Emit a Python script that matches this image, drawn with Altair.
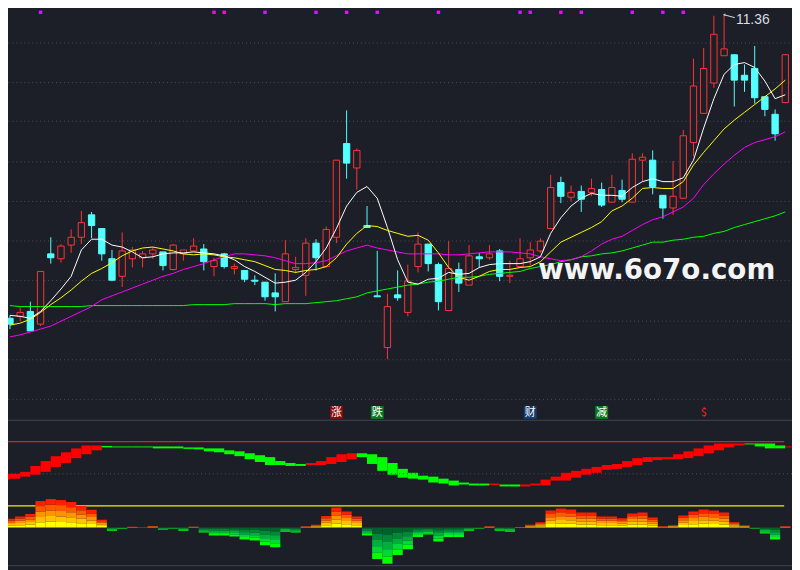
import altair as alt
import pandas as pd

# ---------------- data ----------------
idx = list(range(77))
open_ = [8.25, 8.27, 8.32, 8.19, 8.91, 8.86, 9.00, 9.08, 9.31, 9.17,
         8.86, 8.68, 8.86, 8.87, 8.91, 8.93, 8.75, 8.91, 8.94, 8.96,
         8.78, 8.91, 8.76, 8.74, 8.64, 8.62, 8.51, 8.42, 8.75, 8.69,
         9.02, 8.78, 9.08, 10.04, 9.79, 9.20, 8.48, 7.95, 8.49, 8.31,
         8.78, 9.01, 8.80, 8.33, 8.75, 8.59, 8.88, 8.87, 8.94, 8.68,
         8.78, 8.87, 8.94, 9.17, 9.64, 9.49, 9.55, 9.54, 9.57, 9.44,
         9.56, 9.44, 9.87, 9.87, 9.51, 9.38, 9.48, 10.05, 10.35, 10.66,
         10.94, 10.95, 10.74, 10.81, 10.52, 10.34, 10.46]
close = [8.19, 8.31, 8.12, 8.73, 8.87, 8.99, 9.08, 9.23, 9.20, 8.91,
         8.64, 8.94, 8.95, 8.91, 8.95, 8.79, 9.00, 8.95, 8.99, 8.83,
         8.84, 8.78, 8.78, 8.65, 8.63, 8.47, 8.47, 8.91, 8.77, 9.02,
         8.87, 9.16, 9.87, 9.84, 9.97, 9.18, 8.47, 8.37, 8.46, 8.63,
         9.01, 8.81, 8.42, 8.76, 8.61, 8.89, 8.86, 8.91, 8.68, 8.69,
         8.86, 8.95, 9.04, 9.59, 9.50, 9.54, 9.47, 9.58, 9.41, 9.59,
         9.47, 9.88, 9.90, 9.60, 9.38, 9.50, 10.12, 10.63, 10.81, 11.16,
         11.01, 10.69, 10.69, 10.51, 10.39, 10.14, 10.95]
high = [8.28, 8.36, 8.42, 8.73, 9.08, 9.01, 9.16, 9.35, 9.34, 9.17,
        8.95, 9.13, 8.98, 8.94, 8.98, 8.93, 9.01, 8.95, 9.07, 9.01,
        8.87, 8.92, 8.81, 8.74, 8.69, 8.62, 8.71, 9.05, 8.88, 9.07,
        9.06, 9.19, 9.87, 10.38, 9.99, 9.40, 8.94, 8.50, 8.74, 8.80,
        9.13, 9.01, 8.82, 9.04, 8.82, 9.00, 8.92, 9.00, 8.96, 8.84,
        9.07, 9.03, 9.07, 9.72, 9.70, 9.61, 9.61, 9.68, 9.64, 9.72,
        9.67, 9.94, 9.94, 9.97, 9.51, 9.86, 10.18, 10.91, 11.02, 11.35,
        11.36, 10.95, 10.85, 11.04, 10.52, 10.39, 10.95]
low = [8.14, 8.22, 8.12, 8.17, 8.81, 8.82, 8.92, 9.01, 9.07, 8.84,
       8.63, 8.57, 8.77, 8.77, 8.86, 8.74, 8.74, 8.84, 8.94, 8.74,
       8.68, 8.76, 8.70, 8.62, 8.59, 8.43, 8.32, 8.42, 8.71, 8.48,
       8.74, 8.77, 9.02, 9.68, 9.57, 9.18, 8.47, 7.83, 8.43, 8.27,
       8.72, 8.73, 8.33, 8.33, 8.52, 8.59, 8.77, 8.85, 8.63, 8.61,
       8.78, 8.79, 8.92, 9.17, 9.43, 9.45, 9.34, 9.50, 9.39, 9.43,
       9.44, 9.44, 9.65, 9.52, 9.27, 9.31, 9.48, 9.91, 10.35, 10.61,
       10.94, 10.42, 10.57, 10.45, 10.32, 10.07, 10.46]

ma5 = [8.28, 8.27, 8.25, 8.32, 8.43, 8.55, 8.68, 8.95, 9.06, 9.06,
       9.00, 8.98, 8.93, 8.87, 8.88, 8.91, 8.92, 8.92, 8.93, 8.92,
       8.91, 8.89, 8.85, 8.78, 8.73, 8.67, 8.61, 8.62, 8.64, 8.72,
       8.83, 8.97, 9.17, 9.40, 9.54, 9.60, 9.48, 9.18, 8.85, 8.62,
       8.60, 8.65, 8.66, 8.72, 8.70, 8.71, 8.77, 8.80, 8.81, 8.81,
       8.81, 8.83, 8.88, 9.12, 9.28, 9.40, 9.48, 9.53, 9.51, 9.51,
       9.50, 9.59, 9.65, 9.68, 9.65, 9.65, 9.69, 9.87, 10.20, 10.50,
       10.75, 10.85, 10.87, 10.82, 10.68, 10.50, 10.54]
ma10 = [8.18, 8.20, 8.24, 8.31, 8.39, 8.46, 8.54, 8.63, 8.71, 8.76,
        8.82, 8.89, 8.94, 8.97, 8.98, 8.96, 8.94, 8.91, 8.90, 8.91,
        8.90, 8.88, 8.87, 8.85, 8.83, 8.79, 8.75, 8.74, 8.72, 8.74,
        8.75, 8.78, 8.87, 9.01, 9.12, 9.20, 9.19, 9.15, 9.12, 9.09,
        9.10, 9.05, 8.92, 8.77, 8.67, 8.64, 8.68, 8.73, 8.75, 8.75,
        8.77, 8.78, 8.83, 8.93, 9.03, 9.08, 9.13, 9.18, 9.24, 9.35,
        9.40, 9.48, 9.58, 9.59, 9.58, 9.58, 9.65, 9.82, 9.95, 10.07,
        10.19, 10.28, 10.36, 10.44, 10.52, 10.60, 10.69]
ma20 = [8.06, 8.08, 8.11, 8.14, 8.17, 8.22, 8.27, 8.32, 8.37, 8.44,
        8.48, 8.52, 8.56, 8.60, 8.64, 8.68, 8.71, 8.75, 8.78, 8.81,
        8.85, 8.88, 8.91, 8.91, 8.90, 8.89, 8.87, 8.84, 8.81, 8.81,
        8.82, 8.84, 8.89, 8.94, 8.97, 9.00, 8.97, 8.95, 8.93, 8.91,
        8.91, 8.91, 8.91, 8.90, 8.90, 8.91, 8.92, 8.93, 8.93, 8.93,
        8.92, 8.91, 8.88, 8.86, 8.84, 8.85, 8.88, 8.94, 9.01, 9.06,
        9.09, 9.15, 9.21, 9.26, 9.29, 9.34, 9.39, 9.48, 9.62, 9.73,
        9.83, 9.92, 10.00, 10.05, 10.08, 10.11, 10.16]
ma60 = [8.38, 8.37, 8.37, 8.37, 8.37, 8.37, 8.37, 8.37, 8.38, 8.38,
        8.38, 8.38, 8.38, 8.38, 8.38, 8.38, 8.38, 8.38, 8.39, 8.39,
        8.39, 8.39, 8.40, 8.40, 8.40, 8.40, 8.39, 8.40, 8.40, 8.40,
        8.41, 8.42, 8.43, 8.45, 8.47, 8.51, 8.53, 8.55, 8.57, 8.59,
        8.60, 8.62, 8.63, 8.65, 8.67, 8.67, 8.68, 8.70, 8.71, 8.72,
        8.73, 8.76, 8.78, 8.80, 8.83, 8.85, 8.88, 8.89, 8.91, 8.92,
        8.94, 8.97, 9.00, 9.03, 9.03, 9.05, 9.06, 9.08, 9.09, 9.12,
        9.14, 9.18, 9.21, 9.24, 9.27, 9.30, 9.34]

# oscillator band: one segment from candle s to s+1 (s = -1 .. 76)
band_start = list(range(-1, 77))
band_hi = [50.0, 50.0, 53.0, 62.1, 69.7, 77.3, 83.3, 89.4, 93.9, 93.9,
           93.2, 92.4, 92.4, 92.4, 92.4, 92.4, 92.4, 92.4, 90.9, 90.9,
           89.4, 89.4, 86.4, 84.8, 81.8, 78.8, 75.8, 69.7, 66.7, 65.2,
           66.7, 69.7, 75.8, 80.3, 81.8, 81.8, 80.3, 75.8, 66.7, 57.6,
           51.5, 47.0, 45.5, 42.4, 39.4, 36.4, 34.8, 34.8, 34.8, 33.3,
           33.3, 33.3, 34.8, 40.9, 45.5, 51.5, 54.5, 57.6, 60.6, 63.6,
           65.2, 69.7, 74.2, 75.8, 75.8, 75.8, 80.3, 84.8, 89.4, 93.9,
           97.0, 97.0, 97.0, 97.0, 97.0, 97.0, 93.9, 92.4]
band_lo = [40.9, 42.4, 45.5, 48.5, 53.0, 60.6, 66.7, 74.2, 80.3, 86.4,
           90.9, 90.9, 90.9, 90.9, 90.9, 89.4, 89.4, 89.4, 88.6, 87.9,
           84.8, 83.3, 80.3, 77.3, 72.7, 68.2, 63.6, 63.6, 62.1, 62.1,
           63.6, 63.6, 65.2, 68.2, 72.7, 75.8, 65.2, 54.5, 48.5, 43.9,
           42.4, 40.9, 36.4, 34.8, 31.8, 33.3, 31.8, 31.8, 32.6, 30.3,
           30.3, 30.3, 31.8, 31.8, 39.4, 39.4, 43.9, 48.5, 51.5, 56.1,
           57.6, 60.6, 63.6, 68.2, 71.2, 72.7, 72.7, 74.2, 77.3, 81.8,
           86.4, 90.9, 93.9, 95.5, 92.4, 89.4, 89.4, 90.9]
band_dir = list("RRRRRRRRRR" "GGGGGGGGGGGGGGGGGGGG" "RRRRR" "GGGGGGGGGGGGG"
                "R" "GG" "RRRRRRRRRRRRRRRRRRRRRR" "GGGG" "R")

hist = [9, 11.3, 13.7, 27, 29, 28, 26, 22, 18, 8,
        -3.3, -1.7, 0.7, -0.7, 1.5, -2.3, -1.3, -3.3, 0.8, -5.3,
        -8.3, -8.3, -9.3, -12.3, -13.3, -18.3, -20.3, -4.3, -5.3, 1.3,
        2.7, 11.7, 20.3, 16.3, 11.3, -8.3, -32.3, -37.3, -28.3, -22.3,
        -9.7, -7.3, -14.3, -9.7, -9.7, -3.3, -1.3, 1.3, -3.3, -4.3,
        0.5, 2.7, 5.3, 17.3, 19.3, 18.3, 15.3, 15.3, 11.3, 11.3,
        9.3, 14.3, 15.3, 10.3, 1.3, 2.3, 12.3, 16.3, 18.3, 17.3,
        15.3, 5.3, 2.3, -1.3, -6.3, -12.3, 1.3]

top_marks = [3, 20, 21, 25, 30, 33, 36, 42, 50, 51, 54, 56, 61, 64, 66]
sig_idx = [32, 36, 51, 58, 68]
sig_text = ["涨", "跌", "财", "减", "$"]
sig_box = ["#8a0c0c", "#0b7a1e", "#143d70", "#0b7a1e", ""]

osc_levels = [100, 50, 0]
osc_level_kind = ["top", "mid", "base"]
grid_prices = [11.08, 10.67, 10.27, 9.86, 9.45, 9.05, 8.64, 8.23, 7.83, 7.42]
peak_idx, peak_val = 70, 11.36

# ---------------- layout ----------------
W, H = 792, 562
SX, SY = W / 800.0, H / 570.0
BG = "#1c1f27"
RED = "#ff3434"
CYAN = "#54ffff"
GRID = "#4c505b"


def py(y):
    return y * SY


xs = alt.Scale(domain=[-0.192, 76.657], range=[0, W], nice=False, zero=False)
price_sc = alt.Scale(domain=[5.70, 11.40], range=[H, 0], nice=False, zero=False)
OSC0, OSCU = 507.3, 0.66
osc_sc = alt.Scale(domain=[(OSC0 - 570) / OSCU, OSC0 / OSCU], range=[H, 0], nice=False, zero=False)
HB = 529.3
hist_sc = alt.Scale(domain=[HB - 570, HB], range=[H, 0], nice=False, zero=False)

BODY = 0.31

cdf = pd.DataFrame({"i": idx, "open": open_, "close": close, "high": high, "low": low})
cdf["dir"] = ["up" if c >= o else "down" for o, c in zip(open_, close)]
cdf["x0"] = cdf["i"] - BODY
cdf["x1"] = cdf["i"] + BODY

wicks = alt.Chart(cdf).mark_rule(strokeWidth=1).encode(
    x=alt.X("i:Q", scale=xs, axis=None),
    y=alt.Y("low:Q", scale=price_sc,
            axis=alt.Axis(values=grid_prices, grid=True, gridColor=GRID, gridDash=[1, 3],
                          gridWidth=1, labels=False, ticks=False, domain=False, title=None)),
    y2="high:Q",
    color=alt.Color("dir:N", scale=alt.Scale(domain=["up", "down"], range=[RED, CYAN]), legend=None),
)

bodies = alt.Chart(cdf).mark_rect(strokeWidth=1).encode(
    x=alt.X("x0:Q", scale=xs, axis=None),
    x2="x1:Q",
    y=alt.Y("open:Q", scale=price_sc, axis=None),
    y2="close:Q",
    fill=alt.Fill("dir:N", scale=alt.Scale(domain=["up", "down"], range=[BG, CYAN]), legend=None),
    stroke=alt.Stroke("dir:N", scale=alt.Scale(domain=["up", "down"], range=[RED, CYAN]), legend=None),
)

rows = []
for name, arr in [("MA60", ma60), ("MA20", ma20), ("MA10", ma10), ("MA5", ma5)]:
    for i, v in zip(idx, arr):
        rows.append({"i": i, "ma": name, "v": v})
madf = pd.DataFrame(rows)
ma_lines = alt.Chart(madf).mark_line(strokeWidth=1).encode(
    x=alt.X("i:Q", scale=xs, axis=None),
    y=alt.Y("v:Q", scale=price_sc, axis=None),
    color=alt.Color("ma:N", scale=alt.Scale(domain=["MA60", "MA20", "MA10", "MA5"],
                                            range=["#00ff00", "#ff00ff", "#ffff00", "#ffffff"]),
                    legend=None),
    order=alt.Order("i:Q"),
)

# oscillator band
bdf = pd.DataFrame({"s0": band_start, "hi": band_hi, "lo": band_lo, "d": band_dir})
bdf["s1"] = bdf["s0"] + 1
band = alt.Chart(bdf).mark_rect(clip=True).encode(
    x=alt.X("s0:Q", scale=xs, axis=None),
    x2="s1:Q",
    y=alt.Y("lo:Q", scale=osc_sc, axis=None),
    y2="hi:Q",
    color=alt.Color("d:N", scale=alt.Scale(domain=["R", "G"], range=["#ff0000", "#00ff00"]), legend=None),
)

ldf = pd.DataFrame({"v": osc_levels, "k": osc_level_kind})
lvl_solid = alt.Chart(ldf).transform_filter("datum.k != 'mid'").mark_rule(strokeWidth=1.3).encode(
    y=alt.Y("v:Q", scale=osc_sc, axis=None),
    x=alt.value(0), x2=alt.value(792 * SX),
    color=alt.Color("k:N", scale=alt.Scale(domain=["top", "base"], range=["#e81a1a", "#f2f200"]), legend=None),
)
lvl_mid = alt.Chart(ldf).transform_filter("datum.k == 'mid'").mark_rule(
    strokeWidth=1, strokeDash=[1, 3], color=GRID).encode(
    y=alt.Y("v:Q", scale=osc_sc, axis=None),
)

# histogram, 5 colour bands per bar
pos_cols = ["#ffff00", "#ffc400", "#ff9400", "#ff5a00", "#ff1e00"]
neg_cols = ["#00622a", "#008836", "#00ae3e", "#00d838", "#00ff00"]
hrows = []
for i, h in zip(idx, hist):
    for k in range(5):
        hrows.append({"x0": i - 0.5, "x1": i + 0.5, "y0": h * k / 5, "y1": h * (k + 1) / 5,
                      "b": ("p" if h >= 0 else "n") + str(k)})
hdf = pd.DataFrame(hrows)
histo = alt.Chart(hdf).mark_rect(clip=True).encode(
    x=alt.X("x0:Q", scale=xs, axis=None),
    x2="x1:Q",
    y=alt.Y("y0:Q", scale=hist_sc, axis=None),
    y2="y1:Q",
    color=alt.Color("b:N", scale=alt.Scale(domain=[f"p{k}" for k in range(5)] + [f"n{k}" for k in range(5)],
                                           range=pos_cols + neg_cols), legend=None),
)

# panel separators
sep = alt.Chart(pd.DataFrame({"p": ["a"]})).mark_rule(color="#43464f", strokeWidth=1).encode(
    y=alt.value(py(419.5)), x=alt.value(0), x2=alt.value(W))
sep2 = alt.Chart(pd.DataFrame({"p": ["a"]})).mark_rule(color="#43464f", strokeWidth=1).encode(
    y=alt.value(py(568.5)), x=alt.value(0), x2=alt.value(W))

# top signal squares
tdf = pd.DataFrame({"i": top_marks})
tops = alt.Chart(tdf).mark_square(size=12, color="#ff00ff", opacity=1).encode(
    x=alt.X("i:Q", scale=xs, axis=None), y=alt.value(py(1.5)))

sdf = pd.DataFrame({"i": sig_idx, "t": sig_text, "bg": sig_box})
sdf["fg"] = ["#ffffff" if b else "#ff2020" for b in sig_box]
sig_boxes = alt.Chart(sdf).transform_filter("datum.bg != ''").mark_square(size=170, opacity=1).encode(
    x=alt.X("i:Q", scale=xs, axis=None), y=alt.value(py(411.5)),
    color=alt.Color("bg:N", scale=None, legend=None))
sig_text_l = alt.Chart(sdf).mark_text(font="Noto Sans CJK SC", fontSize=11, baseline="middle",
                                      align="center").encode(
    x=alt.X("i:Q", scale=xs, axis=None), y=alt.value(py(412)),
    text="t:N", color=alt.Color("fg:N", scale=None, legend=None))

pdf = pd.DataFrame({"i": [peak_idx], "v": [peak_val], "lab": [f"{peak_val:.2f}"]})
pdf["i2"] = pdf["i"] + 1.05
pdf["v2"] = pdf["v"] - 0.03
peak_rule = alt.Chart(pdf).mark_rule(color="#dcdcdc", strokeWidth=1).encode(
    x=alt.X("i:Q", scale=xs, axis=None), x2="i2:Q",
    y=alt.Y("v:Q", scale=price_sc, axis=None), y2="v2:Q")
peak_head = alt.Chart(pdf).mark_point(shape="triangle-left", size=10, color="#dcdcdc", filled=True).encode(
    x=alt.X("i:Q", scale=xs, axis=None), y=alt.Y("v:Q", scale=price_sc, axis=None))
peak_text = alt.Chart(pdf).mark_text(align="left", baseline="middle", dx=12, dy=5, fontSize=14,
                                     font="Liberation Sans", color="#d8dde8").encode(
    x=alt.X("i:Q", scale=xs, axis=None), y=alt.Y("v:Q", scale=price_sc, axis=None), text="lab:N")

wm = alt.Chart(pd.DataFrame({"t": ["www.6o7o.com"]})).mark_text(
    font="DejaVu Sans", fontWeight="bold", fontSize=28, color="#f4f4f4", align="center",
    baseline="alphabetic").encode(x=alt.value(662 * SX), y=alt.value(py(275)), text="t:N")

chart = alt.layer(
    wicks, bodies, ma_lines, band, lvl_solid, lvl_mid, histo, sep, sep2,
    tops, sig_boxes, sig_text_l, peak_rule, peak_head, peak_text, wm
).resolve_scale(
    y="independent", color="independent"
).properties(
    width=W, height=H, background=BG, padding=0,
    autosize=alt.AutoSizeParams(type="none"),
).configure_view(stroke=None)

chart.save("out.html", embed_options={"renderer": "svg", "actions": False})
